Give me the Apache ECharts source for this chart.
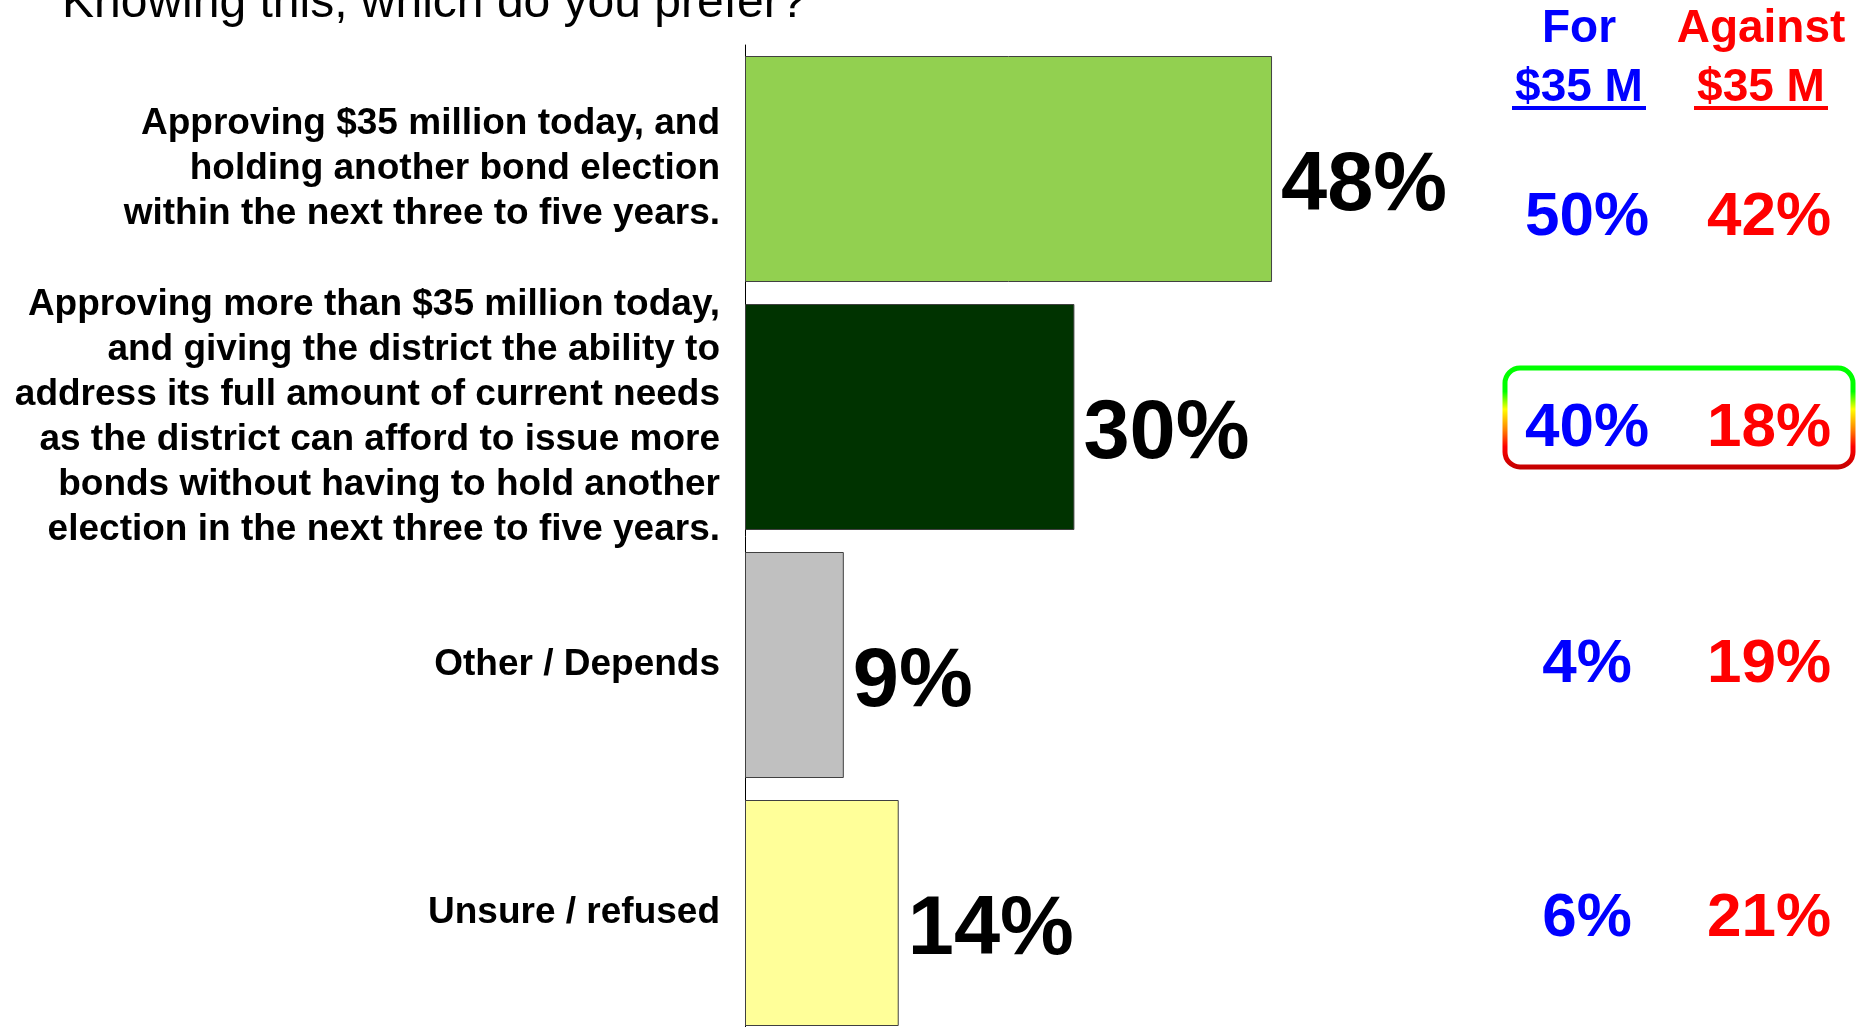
<!DOCTYPE html>
<html>
<head>
<meta charset="utf-8">
<style>
	html,body{margin:0;padding:0;background:#ffffff;}
	#main{width:1864px;height:1027px;}
</style>
<script src="https://cdn.jsdelivr.net/npm/echarts@6/dist/echarts.min.js"></script>
</head>
<body>
<div id="main"></div>
<script>
	// data
	var questionText = 'Knowing this, which do you prefer?';
	var categories = [
		'Approving $35 million today, and\nholding another bond election\nwithin the next three to five years.',
		'Approving more than $35 million today,\nand giving the district the ability to\naddress its full amount of current needs\nas the district can afford to issue more\nbonds without having to hold another\nelection in the next three to five years.',
		'Other / Depends',
		'Unsure / refused'
	];
	var shares = [48, 30, 9, 14];
	var barColors = ['#92d050', '#003300', '#c0c0c0', '#ffff99'];
	var colHeads = ['For', 'Against'];
	var colSubHeads = ['$35 M', '$35 M'];
	var forShares = [50, 40, 4, 6];
	var againstShares = [42, 18, 19, 21];

	var FONT = '"Liberation Sans", Arial, Helvetica, sans-serif';
	var BLUE = '#0000ff', RED = '#ff0000';

	var chart = echarts.init(document.getElementById('main'));
	var option = {
		animation: false,
		backgroundColor: '#ffffff',
		// the last bar runs off the bottom of the slide
		grid: {left: 745, top: 45, width: 1098, height: 992, outerBoundsMode: 'none'},
		xAxis: {type: 'value', min: 0, max: 100, show: false},
		yAxis: {
			type: 'category',
			inverse: true,
			data: categories,
			axisLine: {show: true, lineStyle: {color: '#000000', width: 1}},
			axisTick: {show: false},
			splitLine: {show: false},
			axisLabel: {
				interval: 0,
				margin: 25,
				padding: [8, 0, 0, 0],
				color: '#000000',
				fontFamily: FONT,
				fontSize: 37,
				fontWeight: 'bold',
				lineHeight: 45,
				align: 'right'
			}
		},
		series: [{
			type: 'bar',
			barWidth: 226,
			data: shares.map(function (v, i) {
				return {value: v, itemStyle: {color: barColors[i]}};
			}),
			itemStyle: {borderColor: '#404040', borderWidth: 1},
			label: {
				show: true,
				position: 'right',
				distance: 9,
				offset: [0, 18],
				formatter: '{c}%',
				color: '#000000',
				fontFamily: FONT,
				fontSize: 83,
				fontWeight: 'bold'
			}
		}]
	};
	chart.setOption(option);

	function txt(x, y, s, color, size, weight) {
		return {
			type: 'text', x: x, y: y, silent: true,
			style: {
				text: s, fill: color,
				font: (weight || 'bold') + ' ' + size + 'px ' + FONT,
				textAlign: 'center', textVerticalAlign: 'middle',
				align: 'center', verticalAlign: 'middle'
			}
		};
	}

	// right hand crosstab, rows follow the bar bands
	var colX = [1587, 1769];
	var headX = [1579, 1761];
	var rowNudge = [49, 12, 0, 6];
	var els = [];
	els.push({
		type: 'text', x: 62, y: 4, silent: true,
		style: {text: questionText, fill: '#000000', font: 'normal 48px ' + FONT,
			textAlign: 'left', textVerticalAlign: 'middle', align: 'left', verticalAlign: 'middle'}
	});
	[BLUE, RED].forEach(function (c, k) {
		els.push(txt(headX[k], 29, colHeads[k], c, 46));
		els.push(txt(headX[k], 88, colSubHeads[k], c, 46));
		els.push({type: 'rect', silent: true, shape: {x: headX[k] - 67, y: 106, width: 134, height: 4}, style: {fill: c}});
	});
	for (var i = 0; i < categories.length; i++) {
		var y = chart.convertToPixel({yAxisIndex: 0}, i) + rowNudge[i];
		els.push(txt(colX[0], y, forShares[i] + '%', BLUE, 62));
		els.push(txt(colX[1], y, againstShares[i] + '%', RED, 62));
	}
	// highlight box around the second row
	var band2 = chart.convertToPixel({yAxisIndex: 0}, 1);
	els.push({
		type: 'rect', silent: true,
		shape: {x: 1505, y: band2 - 49, width: 348, height: 99, r: 15},
		style: {
			fill: 'none', lineWidth: 5,
			stroke: new echarts.graphic.LinearGradient(0, 0, 0, 1, [
				{offset: 0, color: '#00ff00'},
				{offset: 0.25, color: '#00ff00'},
				{offset: 0.42, color: '#ffff00'},
				{offset: 0.62, color: '#ff8000'},
				{offset: 0.78, color: '#ff0000'},
				{offset: 1, color: '#c00000'}
			])
		}
	});
	chart.setOption({graphic: {elements: els}});
</script>
</body>
</html>
